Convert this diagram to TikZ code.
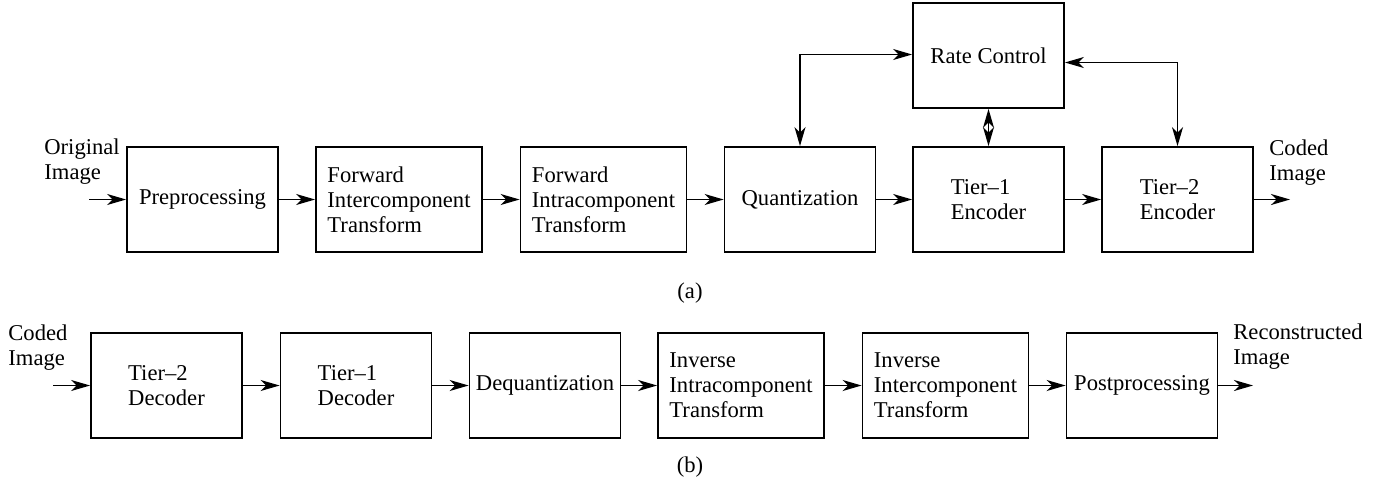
\documentclass[tikz,border=0pt]{standalone}
\usepackage{fontspec}
\setmainfont{Liberation Serif}
\usetikzlibrary{arrows.meta}
\begin{document}
\begin{tikzpicture}[x=0.5pt,y=-0.5pt,
  every node/.style={font=\fontsize{11.3pt}{12.6pt}\selectfont, inner sep=0pt},
  blk/.style={draw, line width=0.9pt, minimum height=52.5pt, align=left},
  nar/.style={blk, minimum width=75.5pt},
  wid/.style={blk, minimum width=83pt},
  lbl/.style={align=left, anchor=north west},
  tip/.tip={Stealth[length=9.5pt,width=5.5pt,inset=2.8pt]},
  conn/.style={line width=0.85pt, -tip},
  dconn/.style={line width=0.85pt, tip-tip}]
\useasboundingbox (0,0) rectangle (1380,493);
% top row
\node[nar] (pre) at (202.5,199.5) {Preprocessing};
\node[wid] (fic) at (399,199.5) {Forward\\Intercomponent\\Transform};
\node[wid] (fac) at (603.5,199.5) {Forward\\Intracomponent\\Transform};
\node[nar] (qua) at (800,199.5) {Quantization};
\node[nar] (t1e) at (988.5,199.5) {Tier–1\\Encoder};
\node[nar] (t2e) at (1177.5,199.5) {Tier–2\\Encoder};
\node[nar] (rc) at (988.5,55.5) {Rate Control};
\coordinate (ina) at (89,199.5);
\coordinate (outa) at (1290,199.5);
\node[lbl] (oi) at (44,138) {Original\\Image};
\node[lbl] (ci) at (1269,139) {Coded\\Image};
\node (a) at (690,293) {(a)};
\draw[conn] (ina) -- (pre);
\draw[conn] (pre) -- (fic);
\draw[conn] (fic) -- (fac);
\draw[conn] (fac) -- (qua);
\draw[conn] (qua) -- (t1e);
\draw[conn] (t1e) -- (t2e);
\draw[conn] (t2e) -- (outa);
\draw[dconn] (qua.north) |- ([yshift=0.5pt]rc.west);
\draw[dconn] (t2e.north) |- ([yshift=-3.5pt]rc.east);
\draw[dconn] (rc) -- (t1e);
% bottom row
\node[nar] (t2d) at (166.5,385.5) {Tier–2\\Decoder};
\node[nar] (t1d) at (356,385.5) {Tier–1\\Decoder};
\node[nar] (deq) at (545,385.5) {Dequantization};
\node[wid] (iia) at (741,385.5) {Inverse\\Intracomponent\\Transform};
\node[wid] (iie) at (945.5,385.5) {Inverse\\Intercomponent\\Transform};
\node[nar] (pos) at (1142,385.5) {Postprocessing};
\coordinate (inb) at (53,385.5);
\coordinate (outb) at (1253,385.5);
\node[lbl] (cib) at (8,324) {Coded\\Image};
\node[lbl] (ri) at (1233,323) {Reconstructed\\Image};
\node (b) at (690,467) {(b)};
\draw[conn] (inb) -- (t2d);
\draw[conn] (t2d) -- (t1d);
\draw[conn] (t1d) -- (deq);
\draw[conn] (deq) -- (iia);
\draw[conn] (iia) -- (iie);
\draw[conn] (iie) -- (pos);
\draw[conn] (pos) -- (outb);
\end{tikzpicture}
\end{document}
